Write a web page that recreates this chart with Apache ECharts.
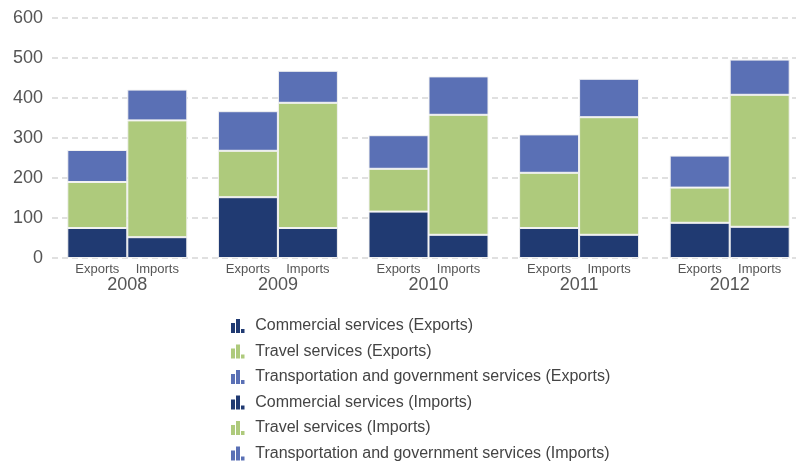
<!DOCTYPE html>
<html><head><meta charset="utf-8">
<script src="https://cdn.jsdelivr.net/npm/echarts@6/dist/echarts.min.js"></script>
<style>html,body{margin:0;padding:0;background:#fff;overflow:hidden}#c{width:805px;height:463px}</style>
</head><body><div id="c"></div>
<script>
const years = ['2008','2009','2010','2011','2012'];
const commercialExports = [75, 152, 116, 75, 88];
const travelExports = [115, 116, 107, 138, 88];
const transportExports = [80, 99, 84, 96, 80];
const commercialImports = [52, 75, 58, 58, 78];
const travelImports = [292, 313, 300, 294, 330];
const transportImports = [77, 80, 96, 96, 88];
const yTicks = [0, 100, 200, 300, 400, 500, 600];

const cDark = '#203a72', cGreen = '#aeca7c', cBlue = '#5a70b5';
const icon = 'path://M0,4 h4 v10 h-4 z M5,0 h4 v14 h-4 z M10,10 h3.5 v4 h-3.5 z';

function mk(name, data, stack, color) {
  return {
    name, type: 'bar', stack, data, barWidth: 60, barGap: 0,
    itemStyle: { color, borderColor: '#f2f2f2', borderWidth: 1 },
    emphasis: { disabled: true }
  };
}

const chart = echarts.init(document.getElementById('c'));
chart.setOption({
  animation: false,
  grid: { left: 52, right: 0, top: 18, bottom: 205, containLabel: false },
  legend: {
    orient: 'vertical', left: 231, top: 318, height: 170, padding: 0,
    itemWidth: 15, itemHeight: 14, itemGap: 9.5,
    icon: icon,
    itemStyle: { borderWidth: 0 },
    textStyle: { fontSize: 16, color: '#444', padding: [0, 0, 0, 5], fontFamily: 'Liberation Sans, Arial, sans-serif' },
    data: [
      { name: 'Commercial services (Exports)', itemStyle: { color: cDark, borderWidth: 0 } },
      { name: 'Travel services (Exports)', itemStyle: { color: cGreen, borderWidth: 0 } },
      { name: 'Transportation and government services (Exports)', itemStyle: { color: cBlue, borderWidth: 0 } },
      { name: 'Commercial services (Imports)', itemStyle: { color: cDark, borderWidth: 0 } },
      { name: 'Travel services (Imports)', itemStyle: { color: cGreen, borderWidth: 0 } },
      { name: 'Transportation and government services (Imports)', itemStyle: { color: cBlue, borderWidth: 0 } }
    ]
  },
  xAxis: {
    type: 'category', data: years,
    axisLine: { show: false }, axisTick: { show: false },
    axisLabel: {
      interval: 0, margin: 4,
      formatter: v => '{a|Exports}{b|Imports}\n{y|' + v + '}',
      rich: {
        a: { width: 60, align: 'center', fontSize: 13, color: '#555', lineHeight: 15, fontFamily: 'Liberation Sans, Arial, sans-serif' },
        b: { width: 60, align: 'center', fontSize: 13, color: '#555', lineHeight: 15, fontFamily: 'Liberation Sans, Arial, sans-serif' },
        y: { fontSize: 18, color: '#555', lineHeight: 17, fontFamily: 'Liberation Sans, Arial, sans-serif' }
      }
    }
  },
  yAxis: {
    type: 'value', min: yTicks[0], max: yTicks[yTicks.length - 1], interval: 100,
    axisLine: { show: false }, axisTick: { show: false },
    axisLabel: { fontSize: 18, color: '#555', margin: 9, fontFamily: 'Liberation Sans, Arial, sans-serif' },
    splitLine: { lineStyle: { type: [6, 4], color: '#d6d6d6', width: 1.5 } }
  },
  series: [
    mk('Commercial services (Exports)', commercialExports, 'E', cDark),
    mk('Travel services (Exports)', travelExports, 'E', cGreen),
    mk('Transportation and government services (Exports)', transportExports, 'E', cBlue),
    mk('Commercial services (Imports)', commercialImports, 'I', cDark),
    mk('Travel services (Imports)', travelImports, 'I', cGreen),
    mk('Transportation and government services (Imports)', transportImports, 'I', cBlue)
  ]
});
</script></body></html>
